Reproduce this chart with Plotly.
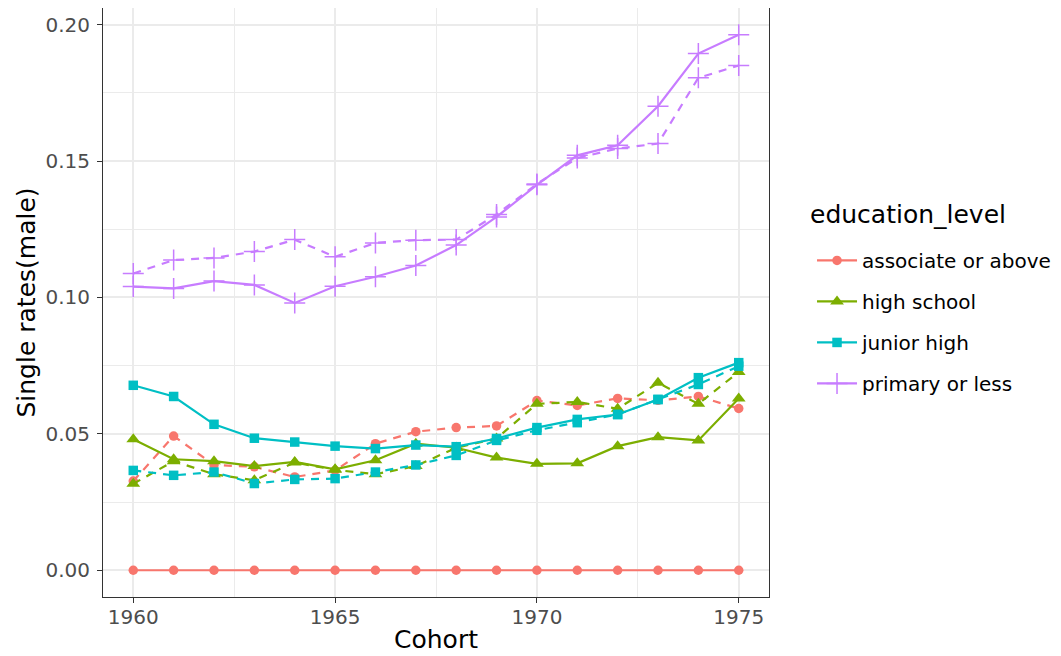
import plotly.graph_objects as go

cohort = list(range(1960, 1976))
levels = ["associate or above", "high school", "junior high", "primary or less"]
colors = ["#F8766D", "#7CAE00", "#00BFC4", "#C77CFF"]
symbols = ["circle", "triangle-up", "square", "cross-thin"]
sizes = [9.5, 12, 9.5, 15]

# solid series
assoc_solid = [0.0] * 16
high_solid = [0.0480, 0.0407, 0.0400, 0.0382, 0.0397, 0.0370, 0.0403, 0.0464,
              0.0449, 0.0413, 0.0390, 0.0392, 0.0455, 0.0488, 0.0476, 0.0630]
junior_solid = [0.0678, 0.0637, 0.0535, 0.0484, 0.0470, 0.0455, 0.0446, 0.0459,
                0.0453, 0.0483, 0.0523, 0.0553, 0.0571, 0.0626, 0.0706, 0.0761]
primary_solid = [0.1040, 0.1033, 0.1060, 0.1046, 0.0980, 0.1041, 0.1076, 0.1117,
                 0.1192, 0.1295, 0.1413, 0.1521, 0.1558, 0.1701, 0.1894, 0.1963]

# dashed series
assoc_dash = [0.0327, 0.0492, 0.0386, 0.0379, 0.0342, 0.0366, 0.0464, 0.0508,
              0.0523, 0.0529, 0.0622, 0.0604, 0.0630, 0.0623, 0.0637, 0.0593]
high_dash = [0.0317, 0.0400, 0.0352, 0.0330, 0.0395, 0.0368, 0.0352, 0.0382,
             0.0449, 0.0483, 0.0610, 0.0617, 0.0592, 0.0687, 0.0610, 0.0727]
junior_dash = [0.0366, 0.0348, 0.0360, 0.0318, 0.0333, 0.0336, 0.0360, 0.0386,
               0.0421, 0.0476, 0.0513, 0.0541, 0.0571, 0.0626, 0.0681, 0.0748]
primary_dash = [0.1088, 0.1137, 0.1145, 0.1168, 0.1212, 0.1149, 0.1200, 0.1210,
                0.1212, 0.1304, 0.1416, 0.1511, 0.1546, 0.1564, 0.1805, 0.1850]

solid = [assoc_solid, high_solid, junior_solid, primary_solid]
dashed = [assoc_dash, high_dash, junior_dash, primary_dash]

fig = go.Figure()
for i, lvl in enumerate(levels):
    marker = dict(symbol=symbols[i], size=sizes[i], color=colors[i],
                  line=dict(color=colors[i], width=1.5 if symbols[i] == "cross-thin" else 0))
    fig.add_trace(go.Scatter(x=cohort, y=dashed[i], mode="lines+markers", name=lvl,
                             legendgroup=lvl, showlegend=False,
                             line=dict(color=colors[i], width=2.2, dash="8px,7px"),
                             marker=marker))
    fig.add_trace(go.Scatter(x=cohort, y=solid[i], mode="lines+markers", name=lvl,
                             legendgroup=lvl, showlegend=True,
                             line=dict(color=colors[i], width=2.2),
                             marker=marker))

grid_major = "#EBEBEB"
axis_common = dict(
    showline=True, linecolor="#333333", linewidth=1, mirror=True,
    ticks="outside", ticklen=5, tickcolor="#333333", tickwidth=1,
    tickfont=dict(family="DejaVu Sans", size=20, color="#4D4D4D"),
    showgrid=True, gridcolor=grid_major, gridwidth=1.5, zeroline=False,
)

fig.update_xaxes(
    range=[1959.25, 1975.75], tick0=1960, dtick=5,
    minor=dict(dtick=2.5, tick0=1960, showgrid=True, gridcolor=grid_major, gridwidth=0.8),
    ticklabelstandoff=-3,
    **axis_common,
)
fig.update_yaxes(
    range=[-0.0098, 0.2061], tick0=0, dtick=0.05, tickformat=".2f",
    minor=dict(dtick=0.025, tick0=0, showgrid=True, gridcolor=grid_major, gridwidth=0.8),
    ticklabelstandoff=3,
    title=dict(text="Single rates(male)", font=dict(family="DejaVu Sans", size=25, color="black"), standoff=2),
    **axis_common,
)

fig.add_annotation(
    text="Cohort", xref="paper", yref="paper",
    x=0.5, y=-0.073, xanchor="center", yanchor="middle", showarrow=False,
    font=dict(family="DejaVu Sans", size=25, color="black"),
)
fig.add_annotation(
    text="education_level", xref="paper", yref="paper",
    x=1.0586, y=0.6486, xanchor="left", yanchor="middle", showarrow=False,
    font=dict(family="DejaVu Sans", size=25, color="black"),
)

fig.update_layout(
    width=1053, height=648,
    margin=dict(l=95, r=292, t=0, b=59, autoexpand=False),
    paper_bgcolor="white", plot_bgcolor="white",
    font=dict(family="DejaVu Sans"),
    legend=dict(
        font=dict(family="DejaVu Sans", size=20, color="black"),
        x=1.0646, xanchor="left", y=0.6045, yanchor="top",
        tracegroupgap=12, itemwidth=40,
        bgcolor="rgba(0,0,0,0)",
    ),
)

fig.write_html("out.html")
